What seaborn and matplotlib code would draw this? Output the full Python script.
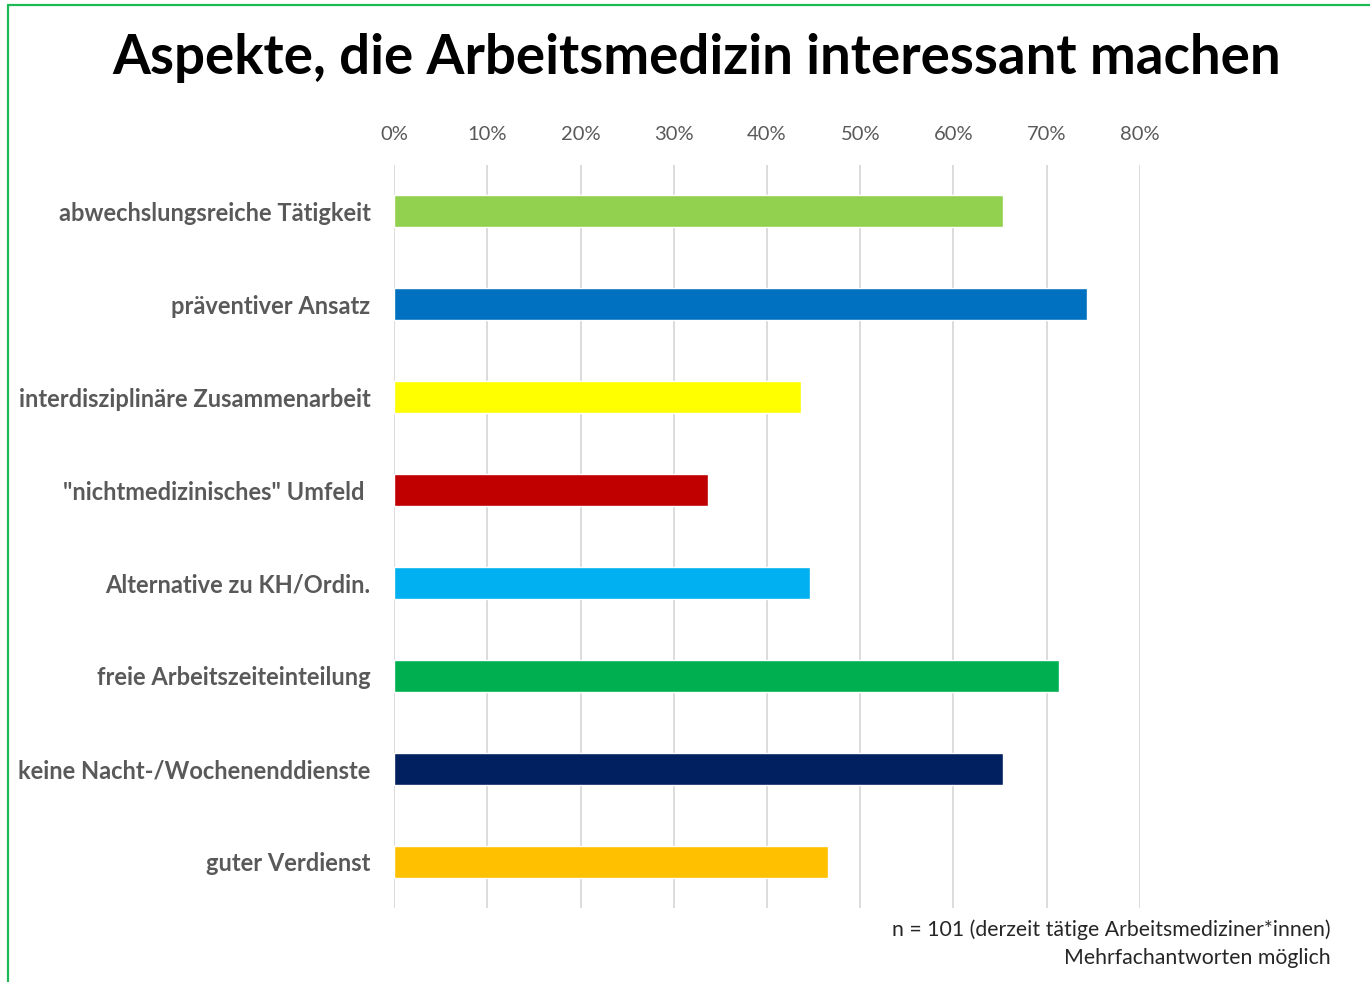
import matplotlib
matplotlib.use('Agg')
import matplotlib.pyplot as plt
from matplotlib.ticker import PercentFormatter
import seaborn as sns
import pandas as pd

'''
Aspekte, die Arbeitsmedizin interessant machen - horizontal bar chart.
'''

categories = ['abwechslungsreiche Tätigkeit', 'präventiver Ansatz',
              'interdisziplinäre Zusammenarbeit', '"nichtmedizinisches" Umfeld ',
              'Alternative zu KH/Ordin.', 'freie Arbeitszeiteinteilung',
              'keine Nacht-/Wochenenddienste', 'guter Verdienst']
shares = [0.653, 0.743, 0.436, 0.337, 0.446, 0.713, 0.653, 0.465]
bar_colors = ['#92D050', '#0070C0', '#FFFF00', '#C00000',
              '#00B0F0', '#00B050', '#002060', '#FFC000']
x_ticks = [0, 0.1, 0.2, 0.3, 0.4, 0.5, 0.6, 0.7, 0.8]

sns.set_theme(style='white')
plt.rcParams['font.family'] = ['Lato', 'DejaVu Sans']

df = pd.DataFrame({'Aspekt': categories, 'Anteil': shares})

fig = plt.figure(figsize=(13.7, 9.82), dpi=100)
ax = fig.add_axes([0.2876, 0.0754, 0.5445, 0.7566])

ax.grid(axis='x', color='#d9d9d9', linewidth=1.3, zorder=0)
ax.set_axisbelow(True)
sns.barplot(data=df, x='Anteil', y='Aspekt', hue='Aspekt',
            palette=bar_colors, width=0.345, legend=False, ax=ax,
            saturation=1, zorder=3)

ax.set_xlim(0, 0.8)
ax.set_ylim(7.5, -0.5)
ax.set_xticks(x_ticks)
ax.xaxis.set_major_formatter(PercentFormatter(1.0, decimals=0))
ax.xaxis.tick_top()
ax.tick_params(axis='x', length=0, pad=16, labelsize=14.5, labelcolor='#595959')
ax.tick_params(axis='y', length=0, pad=17, labelsize=17, labelcolor='#595959')
for lbl in ax.get_yticklabels():
    lbl.set_fontweight('bold')
ax.set_xlabel('')
ax.set_ylabel('')
for s in ax.spines.values():
    s.set_visible(False)

fig.text(0.5085, 0.941, 'Aspekte, die Arbeitsmedizin interessant machen',
         ha='center', va='center', fontsize=39.3, fontweight='bold', color='black')

fig.text(0.971, 0.053, 'n = 101 (derzeit tätige Arbeitsmediziner*innen)',
         ha='right', va='center', fontsize=15.3, color='#262626')
fig.text(0.971, 0.024, 'Mehrfachantworten möglich',
         ha='right', va='center', fontsize=15.3, color='#262626')

# green frame (only top and left edge visible in the reference)
fig.add_artist(plt.Line2D([8 / 1370, 1.0], [1 - 5 / 982, 1 - 5 / 982],
                          transform=fig.transFigure, color='#1DB954', linewidth=1.6))
fig.add_artist(plt.Line2D([8 / 1370, 8 / 1370], [0.0, 1 - 5 / 982],
                          transform=fig.transFigure, color='#1DB954', linewidth=1.6))

fig.savefig('out.png', dpi=100, facecolor='white')
